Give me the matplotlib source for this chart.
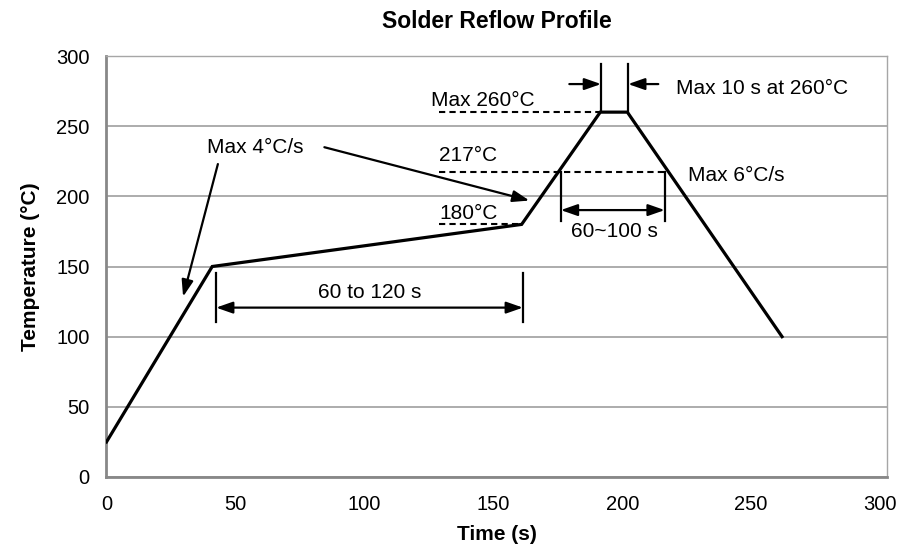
import matplotlib
matplotlib.use("Agg")
import matplotlib.pyplot as plt

plt.rcParams['font.family'] = ['Liberation Sans', 'DejaVu Sans']

# Profile data
time_s = [0, 41, 161, 191.5, 202, 262]
temp_c = [25, 150, 180, 260, 260, 100]

x_ticks = [0, 50, 100, 150, 200, 250, 300]
y_ticks = [0, 50, 100, 150, 200, 250, 300]

# Reference temperature levels
levels = [180, 217, 260]
level_labels = ["180°C", "217°C", "Max 260°C"]

fig = plt.figure(figsize=(9.12, 5.54), dpi=100)
ax = fig.add_axes([106.5/912, 1 - 477/554, (887-106.5)/912, (477-56)/554])

ax.set_xlim(0, 302.7)
ax.set_ylim(0, 300)
ax.set_xticks(x_ticks)
ax.set_yticks(y_ticks)
ax.tick_params(length=0, labelsize=14.5)
ax.tick_params(axis='x', pad=13)
ax.tick_params(axis='y', pad=12)
ax.grid(axis='y', color='#a6a6a6', linewidth=1.3)
ax.set_axisbelow(True)
for s in ['left', 'bottom']:
    ax.spines[s].set_color('#888888')
    ax.spines[s].set_linewidth(2)
for s in ['top', 'right']:
    ax.spines[s].set_color('#a6a6a6')
    ax.spines[s].set_linewidth(1)

ax.plot(time_s, temp_c, color='black', linewidth=2.3, solid_joinstyle='miter', zorder=5)

dash = dict(color='black', linewidth=1.5, linestyle=(0, (3, 2)))
# dashed level lines
ax.plot([129, time_s[2]], [levels[0], levels[0]], **dash)
ax.plot([129, 216.5], [levels[1], levels[1]], **dash)
ax.plot([129, time_s[3]], [levels[2], levels[2]], **dash)

fs = 15
ax.text(129, 183.6, level_labels[0], fontsize=fs, ha='left', va='baseline')
ax.text(129, 225, level_labels[1], fontsize=fs, ha='left', va='baseline')
ax.text(125.8, 264.5, level_labels[2], fontsize=fs, ha='left', va='baseline')

lw = 1.6
arrow = dict(arrowstyle='-|>,head_length=1.0,head_width=0.35', color='black', lw=lw,
             shrinkA=0, shrinkB=0)
darrow = dict(arrowstyle='<|-|>,head_length=1.0,head_width=0.35', color='black', lw=lw,
              shrinkA=0, shrinkB=0)

# Peak time window
ax.plot([191.8, 191.8], [260, 294], color='black', lw=lw)
ax.plot([202.3, 202.3], [260, 294], color='black', lw=lw)
ax.annotate('', xy=(191.8, 280), xytext=(179.5, 280), arrowprops=arrow)
ax.annotate('', xy=(202.3, 280), xytext=(214, 280), arrowprops=arrow)
ax.text(221, 272.9, "Max 10 s at 260°C", fontsize=fs, ha='left', va='baseline')

# 60~100 s above liquidus
ax.plot([176.2, 176.2], [217, 182.4], color='black', lw=lw)
ax.plot([216.5, 216.5], [217, 182.4], color='black', lw=lw)
ax.annotate('', xy=(176.2, 190.2), xytext=(216.5, 190.2), arrowprops=darrow)
ax.text(196.9, 170.7, "60~100 s", fontsize=fs, ha='center', va='baseline')

ax.text(225.5, 210.7, "Max 6°C/s", fontsize=fs, ha='left', va='baseline')

# Max 4 C/s
ax.text(39.1, 230.7, "Max 4°C/s", fontsize=fs, ha='left', va='baseline')
ax.annotate('', xy=(164, 197), xytext=(84.5, 235), arrowprops=arrow)
ax.annotate('', xy=(29.7, 128.5), xytext=(43.2, 223), arrowprops=arrow)

# Soak 60 to 120 s
ax.plot([42.5, 42.5], [145.5, 110.5], color='black', lw=lw)
ax.plot([161.5, 161.5], [145.5, 110.5], color='black', lw=lw)
ax.annotate('', xy=(42.5, 120.7), xytext=(161.5, 120.7), arrowprops=darrow)
ax.text(102, 127.8, "60 to 120 s", fontsize=fs, ha='center', va='baseline')

ax.set_title("Solder Reflow Profile", fontsize=16.5, fontweight='bold', pad=20)
ax.set_xlabel("Time (s)", fontsize=15, fontweight='bold', labelpad=8)
ax.set_ylabel("Temperature (°C)", fontsize=15, fontweight='bold', labelpad=12)

fig.savefig("out.png", dpi=100)
